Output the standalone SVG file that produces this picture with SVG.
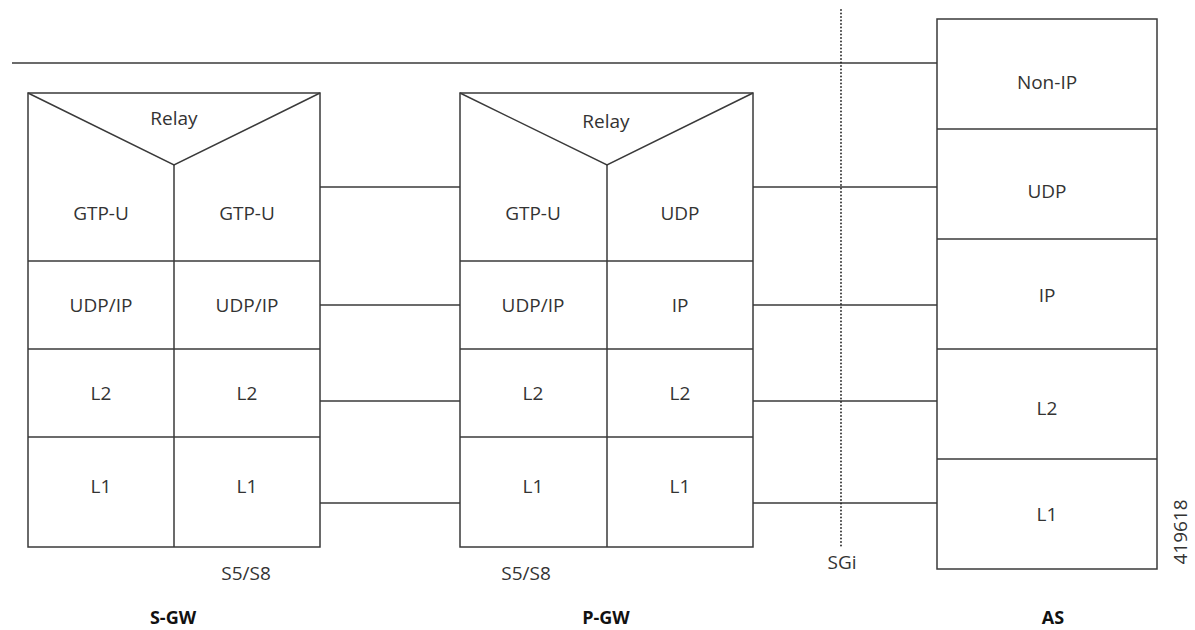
<svg xmlns="http://www.w3.org/2000/svg" width="1195" height="630" viewBox="0 0 1195 630">
<style>
.ln{stroke:#3a3a3a;stroke-width:1.5;fill:none}
.t{font-family:"Open Sans","Liberation Sans",sans-serif;font-size:19px;fill:#333;text-anchor:middle;dominant-baseline:central}
.b{font-family:"Open Sans","Liberation Sans",sans-serif;font-size:18px;font-weight:bold;fill:#111;text-anchor:middle}
</style>
<rect width="1195" height="630" fill="#fff"/>
<g id="connectors">
<line class="ln" x1="12" y1="63" x2="937" y2="63"/>
<line class="ln" x1="320" y1="187" x2="460" y2="187"/>
<line class="ln" x1="320" y1="305" x2="460" y2="305"/>
<line class="ln" x1="320" y1="401" x2="460" y2="401"/>
<line class="ln" x1="320" y1="503" x2="460" y2="503"/>
<line class="ln" x1="753" y1="187" x2="937" y2="187"/>
<line class="ln" x1="753" y1="305" x2="937" y2="305"/>
<line class="ln" x1="753" y1="401" x2="937" y2="401"/>
<line class="ln" x1="753" y1="503" x2="937" y2="503"/>
<line x1="841" y1="10" x2="841" y2="547" stroke="#222" stroke-width="1.8" stroke-dasharray="0.1 3.4" stroke-linecap="round"/>
</g>
<g id="sgw">
<rect class="ln" x="28" y="93" width="292" height="454"/>
<polyline class="ln" points="28,93 174,165 320,93"/>
<line class="ln" x1="174" y1="165" x2="174" y2="547"/>
<line class="ln" x1="28" y1="261" x2="320" y2="261"/>
<line class="ln" x1="28" y1="349" x2="320" y2="349"/>
<line class="ln" x1="28" y1="437" x2="320" y2="437"/>
<text class="t" x="174" y="118">Relay</text>
<text class="t" x="101" y="213">GTP-U</text>
<text class="t" x="247" y="213">GTP-U</text>
<text class="t" x="101" y="305">UDP/IP</text>
<text class="t" x="247" y="305">UDP/IP</text>
<text class="t" x="101" y="393">L2</text>
<text class="t" x="247" y="393">L2</text>
<text class="t" x="101" y="486">L1</text>
<text class="t" x="247" y="486">L1</text>
<text class="t" x="246" y="573">S5/S8</text>
<text class="b" x="173" y="624">S-GW</text>
</g>
<g id="pgw">
<rect class="ln" x="460" y="93" width="293" height="454"/>
<polyline class="ln" points="460,93 607,165 753,93"/>
<line class="ln" x1="607" y1="165" x2="607" y2="547"/>
<line class="ln" x1="460" y1="261" x2="753" y2="261"/>
<line class="ln" x1="460" y1="349" x2="753" y2="349"/>
<line class="ln" x1="460" y1="437" x2="753" y2="437"/>
<text class="t" x="606" y="121">Relay</text>
<text class="t" x="533" y="213">GTP-U</text>
<text class="t" x="680" y="213">UDP</text>
<text class="t" x="533" y="305">UDP/IP</text>
<text class="t" x="680" y="305">IP</text>
<text class="t" x="533" y="393">L2</text>
<text class="t" x="680" y="393">L2</text>
<text class="t" x="533" y="486">L1</text>
<text class="t" x="680" y="486">L1</text>
<text class="t" x="526" y="573">S5/S8</text>
<text class="b" x="606" y="624">P-GW</text>
</g>
<g id="as">
<rect class="ln" x="937" y="19" width="220" height="550"/>
<line class="ln" x1="937" y1="129" x2="1157" y2="129"/>
<line class="ln" x1="937" y1="239" x2="1157" y2="239"/>
<line class="ln" x1="937" y1="349" x2="1157" y2="349"/>
<line class="ln" x1="937" y1="459" x2="1157" y2="459"/>
<text class="t" x="1047" y="82">Non-IP</text>
<text class="t" x="1047" y="191">UDP</text>
<text class="t" x="1047" y="295">IP</text>
<text class="t" x="1047" y="408">L2</text>
<text class="t" x="1047" y="514">L1</text>
<text class="b" x="1053" y="624">AS</text>
</g>
<g id="labels">
<text class="t" x="842" y="562">SGi</text>
<text class="t" x="1180" y="532" font-size="15" transform="rotate(-90 1180 532)">419618</text>
</g>
</svg>
